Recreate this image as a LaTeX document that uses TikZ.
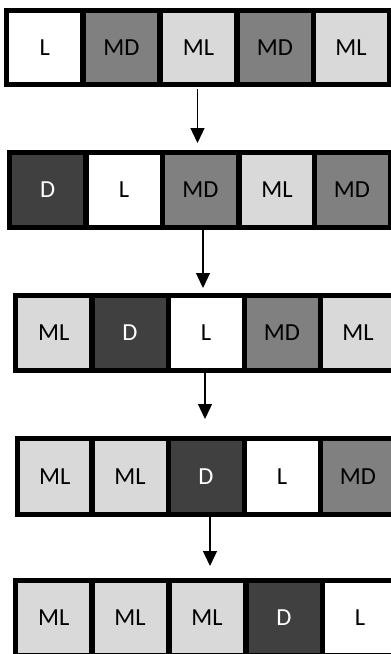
\documentclass[tikz,border=0pt]{standalone}
\usepackage{fontspec}
\setmainfont{Carlito}
\usetikzlibrary{arrows.meta}
\definecolor{cL}{HTML}{FFFFFF}
\definecolor{cML}{HTML}{D9D9D9}
\definecolor{cMD}{HTML}{808080}
\definecolor{cD}{HTML}{404040}
\tikzset{
  cell/.style={draw=black, line width=5pt, minimum width=76pt, minimum height=75pt, inner sep=0pt, font=\fontsize{24.5}{28}\selectfont, text=black},
  Lc/.style={cell, fill=cL},
  MLc/.style={cell, fill=cML},
  MDc/.style={cell, fill=cMD},
  Dc/.style={cell, fill=cD, text=white},
  flow/.style={line width=1.3pt, -{Triangle[width=14pt,length=15pt]}}
}
\begin{document}
\begin{tikzpicture}[x=1pt,y=-1pt]
\useasboundingbox (0,0) rectangle (391,654);
\clip (0,0) rectangle (391,654);
% row 1
\node[Lc,  minimum height=74pt] (r1c1) at (44.7,47.5) {L};
\node[MDc, minimum height=74pt] (r1c2) at (121.5,47.5) {MD};
\node[MLc, minimum height=74pt] (r1c3) at (198.5,47.5) {ML};
\node[MDc, minimum height=74pt] (r1c4) at (275,47.5) {MD};
\node[MLc, minimum height=74pt] (r1c5) at (351,47.5) {ML};
% row 2
\node[Dc]  (r2c1) at (47.7,190) {D};
\node[Lc]  (r2c2) at (124,190) {L};
\node[MDc] (r2c3) at (200.5,190) {MD};
\node[MLc] (r2c4) at (277,190) {ML};
\node[MDc] (r2c5) at (352,190) {MD};
% row 3
\node[MLc] (r3c1) at (53.7,333) {ML};
\node[Dc]  (r3c2) at (130,333) {D};
\node[Lc]  (r3c3) at (206,333) {L};
\node[MDc] (r3c4) at (282,333) {MD};
\node[MLc] (r3c5) at (358,333) {ML};
% row 4
\node[MLc, minimum width=74.5pt, minimum height=76pt] (r4c1) at (54.7,476.5) {ML};
\node[MLc, minimum height=76pt] (r4c2) at (130,476.5) {ML};
\node[Dc,  minimum height=76pt] (r4c3) at (206,476.5) {D};
\node[Lc,  minimum height=76pt] (r4c4) at (282,476.5) {L};
\node[MDc, minimum height=76pt] (r4c5) at (358,476.5) {MD};
% row 5
\node[MLc] (r5c1) at (53.7,618) {ML};
\node[MLc] (r5c2) at (130,618) {ML};
\node[MLc] (r5c3) at (207,618) {ML};
\node[Dc]  (r5c4) at (284,618) {D};
\node[Lc]  (r5c5) at (360,618) {L};
% connectors
\coordinate (a1s) at (197.5,89);
\coordinate (a1e) at (197.5,143);
\coordinate (a2s) at (203,230);
\coordinate (a2e) at (203,288);
\coordinate (a3s) at (205,370);
\coordinate (a3e) at (205,419);
\coordinate (a4s) at (210,517);
\coordinate (a4e) at (210,566);
\draw[flow] (a1s) -- (a1e);
\draw[flow] (a2s) -- (a2e);
\draw[flow] (a3s) -- (a3e);
\draw[flow] (a4s) -- (a4e);
\end{tikzpicture}
\end{document}
